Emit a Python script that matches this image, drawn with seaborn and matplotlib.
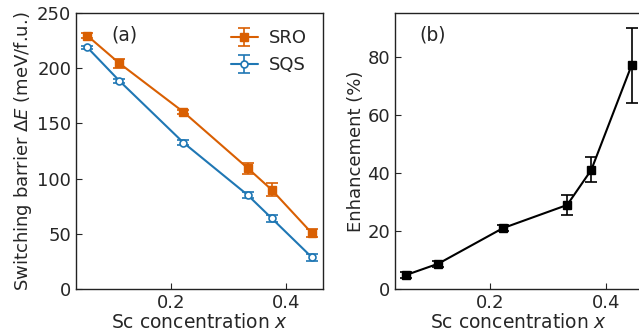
import matplotlib
matplotlib.use('Agg')
import matplotlib.pyplot as plt
import seaborn as sns

# Sc concentration
x = [0.0556, 0.1111, 0.2222, 0.3333, 0.375, 0.4444]

# switching barrier (meV/f.u.)
sro = [229.5, 204.5, 160.3, 109.5, 89.8, 50.6]
sro_err = [2.0, 4.0, 2.0, 5.0, 6.0, 4.0]
sqs = [218.9, 188.6, 132.5, 85.1, 64.0, 28.7]
sqs_err = [1.5, 2.0, 2.0, 3.0, 3.0, 3.0]

# enhancement (%)
enh = [4.8, 8.7, 20.9, 28.9, 41.0, 77.0]
enh_err = [1.0, 1.0, 1.0, 3.5, 4.3, 13.0]

sns.set_theme(style='ticks')
plt.rcParams['font.family'] = ['DejaVu Sans']
plt.rcParams['mathtext.fontset'] = 'dejavusans'

fs = 13.5
orange = '#d95f02'
blue = '#1f77b4'

fig = plt.figure(figsize=(6.39, 3.34), dpi=100)
ax1 = fig.add_axes([0.119, 0.135, 0.3865, 0.826])
ax2 = fig.add_axes([0.618, 0.135, 0.388, 0.826])

# panel (a)
ax1.errorbar(x, sro, yerr=sro_err, color=orange, marker='s', ms=5.5, lw=1.5,
             capsize=4, elinewidth=1.2, capthick=1.2, label='SRO')
ax1.errorbar(x, sqs, yerr=sqs_err, color=blue, marker='o', ms=5, lw=1.5,
             mfc='white', mew=1.2, capsize=4, elinewidth=1.2, capthick=1.2,
             label='SQS')
ax1.set_ylim(0, 250)
ax1.set_yticks([0, 50, 100, 150, 200, 250])
ax1.set_xticks([0.2, 0.4])
ax1.set_xlabel('Sc concentration $x$', fontsize=fs, labelpad=1)
ax1.set_ylabel(r'Switching barrier $\Delta E$ (meV/f.u.)', fontsize=13, labelpad=2)
ax1.text(0.145, 0.92, '(a)', transform=ax1.transAxes, fontsize=fs, va='center')
ax1.legend(loc='upper right', frameon=False, fontsize=13, handlelength=1.5,
           borderaxespad=0.5, labelspacing=0.5, handletextpad=0.6)

# panel (b)
ax2.errorbar(x, enh, yerr=enh_err, color='black', marker='s', ms=6, lw=1.5,
             capsize=4, elinewidth=1.2, capthick=1.2)
ax2.set_ylim(0, 95)
ax2.set_yticks([0, 20, 40, 60, 80])
ax2.set_xticks([0.2, 0.4])
ax2.set_xlabel('Sc concentration $x$', fontsize=fs, labelpad=1)
ax2.set_ylabel('Enhancement (%)', fontsize=13, labelpad=2)
ax2.text(0.1, 0.92, '(b)', transform=ax2.transAxes, fontsize=fs, va='center')

for ax in (ax1, ax2):
    ax.tick_params(direction='in', length=4, width=0.8, labelsize=13,
                   top=False, right=False)
    for s in ax.spines.values():
        s.set_linewidth(1.0)
        s.set_color('#222222')

fig.savefig('out.png', dpi=100)
